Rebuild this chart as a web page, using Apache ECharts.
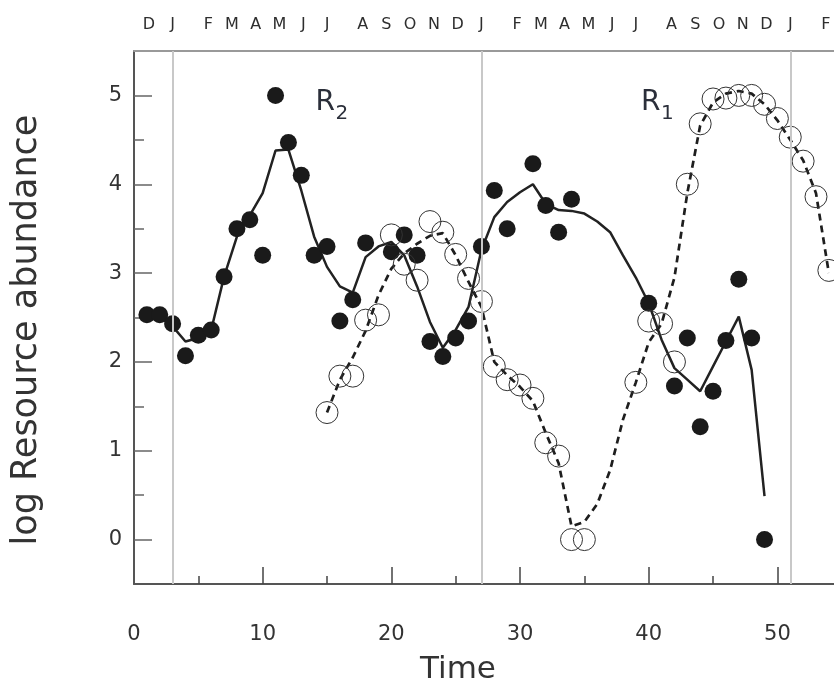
<!DOCTYPE html>
<html><head><meta charset="utf-8">
<script src="https://cdn.jsdelivr.net/npm/echarts@6/dist/echarts.min.js"></script>
<style>html,body{margin:0;padding:0;background:#fff}#c{width:834px;height:695px}</style>
</head><body><div id="c"></div>
<script>
// ---- data ----
const timeR2  = [1,2,3,4,5,6,7,8,9,10,11,12,13,14,15,16,17,18,20,21,22,23,24,25,26,27,28,29,31,32,33,34,40,42,43,44,45,46,47,48,49];
const valueR2 = [2.53,2.53,2.43,2.07,2.3,2.36,2.96,3.5,3.6,3.2,5.0,4.47,4.1,3.2,3.3,2.46,2.7,3.34,3.24,3.43,3.2,2.23,2.06,2.27,2.46,3.3,3.93,3.5,4.23,3.76,3.46,3.83,2.66,1.73,2.27,1.27,1.67,2.24,2.93,2.27,0];
const fitTimeR2 = [1,2,3,4,5,6,7,8,9,10,11,12,13,14,15,16,17,18,19,20,21,22,23,24,25,26,27,28,29,30,31,32,33,34,35,36,37,38,39,40,41,42,43,44,45,46,47,48,49];
const fitR2 = [2.53,2.5,2.4,2.23,2.27,2.36,2.96,3.41,3.65,3.9,4.38,4.39,3.93,3.41,3.07,2.85,2.78,3.18,3.3,3.35,3.2,2.85,2.45,2.16,2.36,2.62,3.26,3.63,3.8,3.91,4.0,3.78,3.71,3.7,3.67,3.58,3.46,3.2,2.95,2.66,2.25,1.93,1.8,1.67,1.95,2.23,2.51,1.91,0.49];

const timeR1  = [15,16,17,18,19,20,21,22,23,24,25,26,27,28,29,30,31,32,33,34,35,39,40,41,42,43,44,45,46,47,48,49,50,51,52,53,54];
const valueR1 = [1.43,1.84,1.84,2.47,2.53,3.43,3.1,2.92,3.58,3.46,3.21,2.94,2.68,1.95,1.8,1.74,1.59,1.09,0.94,0,0,1.77,2.46,2.43,2.0,4.0,4.68,4.96,4.97,5.0,5.0,4.9,4.74,4.53,4.26,3.86,3.03];
const fitTimeR1 = [15,16,17,18,19,20,21,22,23,24,25,26,27,28,29,30,31,32,33,34,35,36,37,38,39,40,41,42,43,44,45,46,47,48,49,50,51,52,53,54];
const fitR1 = [1.43,1.8,2.05,2.35,2.75,3.05,3.22,3.33,3.42,3.45,3.2,2.9,2.62,2.0,1.85,1.72,1.56,1.2,0.86,0.15,0.2,0.4,0.78,1.35,1.77,2.22,2.43,2.95,3.9,4.66,4.92,5.02,5.05,5.02,4.9,4.72,4.5,4.27,3.9,3.0];

const xTicks = [0,10,20,30,40,50];
const xMinorTicks = [5,15,25,35,45];
const yTicks = [0,1,2,3,4,5];
const yMinorTicks = [0.5,1.5,2.5,3.5,4.5];
const januaryLines = [3,27,51];
const monthString = 'D J  F M A M J J  A S O N D J  F M A M J J  A S O N D J  F';

// ---- chart ----
const FONT = 'DejaVu Sans';
const zip = (a, b) => a.map((t, i) => [t, b[i]]);
const chart = echarts.init(document.getElementById('c'), null, {renderer: 'canvas'});

const axisLabelStyle = {fontFamily: FONT, fontSize: 21, color: '#333'};

chart.setOption({
  animation: false,
  backgroundColor: '#fff',
  grid: {left: 134, right: 0, top: 51, bottom: 111},
  xAxis: [
    {type: 'value', min: 0, max: 54.4, position: 'bottom',
     axisLine: {onZero: false, lineStyle: {color: '#555', width: 2}},
     axisTick: {inside: true, length: 17, customValues: xTicks.slice(1), lineStyle: {color: '#444', width: 1.5}},
     axisLabel: Object.assign({customValues: xTicks, margin: 40}, axisLabelStyle),
     splitLine: {show: false}},
    {type: 'value', min: 0, max: 54.4, position: 'bottom',
     axisLine: {show: false, onZero: false},
     axisTick: {inside: true, length: 8, customValues: xMinorTicks, lineStyle: {color: '#444', width: 1.5}},
     axisLabel: {show: false}, splitLine: {show: false}},
    {type: 'value', min: 0, max: 54.4, position: 'top',
     axisLine: {onZero: false, lineStyle: {color: '#999', width: 2}},
     axisTick: {show: false}, axisLabel: {show: false}, splitLine: {show: false}}
  ],
  yAxis: [
    {type: 'value', min: -0.5, max: 5.5, position: 'left',
     axisLine: {show: true, onZero: false, lineStyle: {color: '#555', width: 2}},
     axisTick: {show: true, inside: true, length: 18, customValues: yTicks, lineStyle: {color: '#666', width: 1.5}},
     axisLabel: Object.assign({customValues: yTicks, margin: 12}, axisLabelStyle),
     splitLine: {show: false}},
    {type: 'value', min: -0.5, max: 5.5, position: 'left',
     axisLine: {show: false, onZero: false},
     axisTick: {show: true, inside: true, length: 10, customValues: yMinorTicks, lineStyle: {color: '#666', width: 1.5}},
     axisLabel: {show: false}, splitLine: {show: false}}
  ],
  series: [
    {type: 'line', name: 'R2 fit', data: zip(fitTimeR2, fitR2), showSymbol: false, symbol: 'none',
     lineStyle: {color: '#222', width: 2.5}, z: 2,
     markLine: {silent: true, symbol: 'none', label: {show: false},
       lineStyle: {color: '#c8c8c8', width: 2, type: 'solid'},
       data: januaryLines.map(v => ({xAxis: v}))}},
    {type: 'line', name: 'R1 fit', data: zip(fitTimeR1, fitR1), showSymbol: false, symbol: 'none',
     lineStyle: {color: '#1e1e1e', width: 2.7, type: [7, 5]}, z: 2},
    {type: 'scatter', name: 'R1', data: zip(timeR1, valueR1), symbol: 'circle', symbolSize: 22,
     itemStyle: {color: 'rgba(255,255,255,0)', borderColor: '#333', borderWidth: 1, opacity: 1}, z: 4},
    {type: 'scatter', name: 'R2', data: zip(timeR2, valueR2), symbol: 'circle', symbolSize: 17,
     itemStyle: {color: '#1a1a1a', opacity: 1}, z: 3}
  ]
});

// month letters: each J sits above a January line, letters on an even character grid
const px = (t, v) => chart.convertToPixel({xAxisIndex: 0, yAxisIndex: 0}, [t, v]);
const slotsPerYear = 26; // character slots between consecutive J's in monthString
const firstJSlot = 2;
const g = [];
for (let i = 0; i < monthString.length; i++) {
  const ch = monthString[i];
  if (ch === ' ') continue;
  const t = januaryLines[0] + (i - firstJSlot) * (januaryLines[1] - januaryLines[0]) / slotsPerYear;
  g.push({type: 'text', x: px(t, 0)[0], y: 25,
    style: {text: ch, font: '16px "' + FONT + '"', fill: '#2e2e2e', align: 'center', verticalAlign: 'middle'}});
}
g.push({type: 'text', x: 27, y: 330, rotation: Math.PI / 2,
  style: {text: 'log Resource abundance', font: '35px "' + FONT + '"', fill: '#333', align: 'center', verticalAlign: 'middle'}});
g.push({type: 'text', x: 458, y: 670,
  style: {text: 'Time', font: '31px "' + FONT + '"', fill: '#333', align: 'center', verticalAlign: 'middle'}});
function rLabel(t, v, sub) {
  const p = px(t, v);
  return [
    {type: 'text', x: p[0], y: p[1], style: {text: 'R', font: '28px "' + FONT + '"', fill: '#2b2f3a', align: 'left', verticalAlign: 'bottom'}},
    {type: 'text', x: p[0] + 20, y: p[1] + 7, style: {text: sub, font: '20px "' + FONT + '"', fill: '#2b2f3a', align: 'left', verticalAlign: 'bottom'}}
  ];
}
g.push(...rLabel(14.1, 4.76, '2'), ...rLabel(39.4, 4.76, '1'));
chart.setOption({graphic: g});
</script></body></html>
